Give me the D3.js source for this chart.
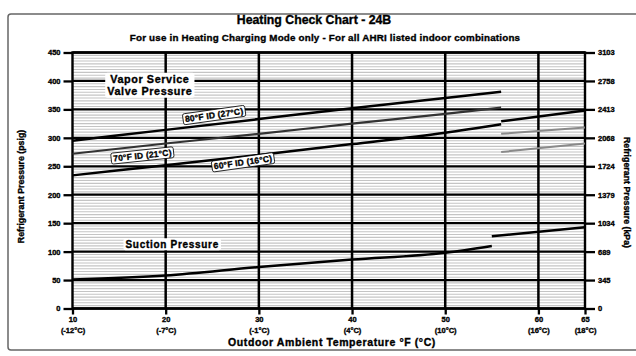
<!DOCTYPE html>
<html><head><meta charset="utf-8">
<script src="https://cdn.jsdelivr.net/npm/d3@7"></script>
<style>
html,body{margin:0;padding:0;background:#fff;}
svg{display:block;font-family:"Liberation Sans",Arial,sans-serif;font-weight:bold;}
svg text{stroke:#000;stroke-width:0.35px;}
</style></head>
<body>
<script>
// ---- data ----
const tempTicks = [10, 20, 30, 40, 50, 60, 65];
const tempCLabels = ["(-12°C)", "(-7°C)", "(-1°C)", "(4°C)", "(10°C)", "(16°C)", "(18°C)"];
const psigTicks = [0, 50, 100, 150, 200, 250, 300, 350, 400, 450];
const kpaLabels = ["0", "345", "689", "1034", "1379", "1724", "2068", "2413", "2758", "3103"];

const idTemps = [10, 20, 30, 40, 50, 56];
const id80 = [295, 314, 333, 352, 370, 381];
const id70 = [272, 290, 307, 325, 342, 353];
const id60 = [234, 252, 270, 289, 309, 324];

const hiTemps = [56, 65];
const hi80 = [329, 348];
const hi70 = [307, 318];
const hi60 = [275, 290];

const suctionTemps = [10, 20, 30, 40, 50, 55];
const suction = [51, 58, 73, 86, 98, 110];
const suctionHiTemps = [55, 65];
const suctionHi = [127, 143];

const W = 636, H = 356;
const svg = d3.select("body").append("svg").attr("width", W).attr("height", H);

const x = d3.scaleLinear().domain([10, 65]).range([72.5, 585]);
const y = d3.scaleLinear().domain([0, 450]).range([308.5, 52.5]);

// outer frame
svg.append("rect").attr("x", 8).attr("y", 14).attr("width", 640).attr("height", 336)
  .attr("rx", 3).attr("fill", "none").attr("stroke", "#666").attr("stroke-width", 1.5);

// titles
svg.append("text").attr("x", 314).attr("y", 24).attr("text-anchor", "middle")
  .attr("font-size", 12.3).text("Heating Check Chart - 24B");
svg.append("text").attr("x", 325).attr("y", 41).attr("text-anchor", "middle")
  .attr("font-size", 9.8).attr("letter-spacing", 0.2)
  .text("For use in Heating Charging Mode only - For all AHRI listed indoor combinations");

// minor gridlines every 5 psig
const minor = d3.range(5, 450, 5).filter(v => v % 50 !== 0);
svg.append("g").selectAll("line").data(minor).join("line")
  .attr("x1", x(10)).attr("x2", x(65)).attr("y1", d => y(d)).attr("y2", d => y(d))
  .attr("stroke", "#c4c4c4").attr("stroke-width", 1.1);

// major horizontal gridlines
svg.append("g").selectAll("line").data(psigTicks).join("line")
  .attr("x1", x(10)).attr("x2", x(65)).attr("y1", d => y(d)).attr("y2", d => y(d))
  .attr("stroke", "#000").attr("stroke-width", 2.3);

// vertical gridlines
svg.append("g").selectAll("line").data(tempTicks.slice(1, 6)).join("line")
  .attr("y1", y(0)).attr("y2", y(450)).attr("x1", d => x(d)).attr("x2", d => x(d))
  .attr("stroke", "#000").attr("stroke-width", 2.5);

// axes
const leftAxis = d3.axisLeft(y).tickValues(psigTicks).tickSize(9).tickPadding(3);
const gl = svg.append("g").attr("transform", `translate(${x(10)},0)`).call(leftAxis);
const rightAxis = d3.axisRight(y).tickValues(psigTicks).tickSize(10).tickPadding(3)
  .tickFormat((d, i) => kpaLabels[i]);
const gr = svg.append("g").attr("transform", `translate(${x(65)},0)`).call(rightAxis);
const bottomAxis = d3.axisBottom(x).tickValues(tempTicks).tickSize(6).tickPadding(2);
const gb = svg.append("g").attr("transform", `translate(0,${y(0)})`).call(bottomAxis);
[gl, gr, gb].forEach(g => {
  g.select(".domain").remove();
  g.selectAll(".tick line").attr("stroke", "#000").attr("stroke-width", 2.3);
  g.selectAll("text").attr("font-size", 7.5).attr("font-weight", "bold")
    .attr("font-family", "Liberation Sans, Arial, sans-serif").attr("fill", "#000");
});
gb.selectAll(".tick").append("text").attr("y", 19).attr("dy", "0.71em")
  .attr("text-anchor", "middle").attr("font-size", 7.5).attr("font-weight", "bold")
  .attr("fill", "#000").attr("font-family", "Liberation Sans, Arial, sans-serif")
  .text((d, i) => tempCLabels[i]);

// plot border
svg.append("rect").attr("x", x(10)).attr("y", y(450)).attr("width", x(65) - x(10))
  .attr("height", y(0) - y(450)).attr("fill", "none").attr("stroke", "#000").attr("stroke-width", 2.4);

// axis titles
svg.append("text").attr("transform", `translate(24,${(y(0) + y(450)) / 2 + 6}) rotate(-90)`)
  .attr("text-anchor", "middle").attr("font-size", 8.8).text("Refrigerant Pressure (psig)");
svg.append("text").attr("transform", `translate(624,${(y(0) + y(450)) / 2 + 12}) rotate(90)`)
  .attr("text-anchor", "middle").attr("font-size", 8.8).text("Refrigerant Pressure (kPa)");
svg.append("text").attr("x", 332).attr("y", 346).attr("text-anchor", "middle")
  .attr("font-size", 10.5).attr("letter-spacing", 0.6).text("Outdoor Ambient Temperature °F (°C)");

// lines
const line = d3.line().x(d => x(d[0])).y(d => y(d[1])).curve(d3.curveMonotoneX);
const zip = (a, b) => a.map((v, i) => [v, b[i]]);
const series = [
  {t: idTemps, v: id80, c: "#000", w: 2.5},
  {t: idTemps, v: id70, c: "#333", w: 2.2},
  {t: idTemps, v: id60, c: "#000", w: 2.5},
  {t: hiTemps, v: hi80, c: "#000", w: 2.5},
  {t: hiTemps, v: hi70, c: "#8a8a8a", w: 2},
  {t: hiTemps, v: hi60, c: "#8a8a8a", w: 2},
  {t: suctionTemps, v: suction, c: "#000", w: 2.5},
  {t: suctionHiTemps, v: suctionHi, c: "#000", w: 2.5}
];
svg.append("g").selectAll("path").data(series).join("path")
  .attr("d", s => line(zip(s.t, s.v))).attr("fill", "none")
  .attr("stroke", s => s.c).attr("stroke-width", s => s.w);

// annotations
function boxLabel(lines, T, P, rot, fs, border, ls) {
  const g = svg.append("g").attr("transform", `translate(${x(T)},${y(P)}) rotate(${rot})`);
  const t = g.append("text").attr("text-anchor", "middle").attr("font-size", fs).attr("letter-spacing", ls);
  lines.forEach((l, i) => t.append("tspan").attr("x", 0)
    .attr("dy", i === 0 ? (-(lines.length - 1) * fs * 0.55 + fs * 0.35) : fs * 1.1).text(l));
  const bb = t.node().getBBox();
  g.insert("rect", "text").attr("x", bb.x - 2).attr("y", bb.y - 0.5).attr("width", bb.width + 4)
    .attr("height", bb.height + 1).attr("rx", 2).attr("fill", "#fff")
    .attr("stroke", border ? "#000" : "none").attr("stroke-width", 0.8);
}
boxLabel(["Vapor Service", "Valve Pressure"], 18.3, 392, 0, 10.8, false, 0.6);
boxLabel(["Suction Pressure"], 20.7, 113, 0, 10, false, 0.7);
boxLabel(["80°F ID (27°C)"], 25.2, 340, -8, 8.5, true, 0.2);
boxLabel(["70°F ID (21°C)"], 17.5, 269, -6, 8.5, true, 0.2);
boxLabel(["60°F ID (16°C)"], 28.3, 257, -8, 8.5, true, 0.2);
</script>
</body></html>
